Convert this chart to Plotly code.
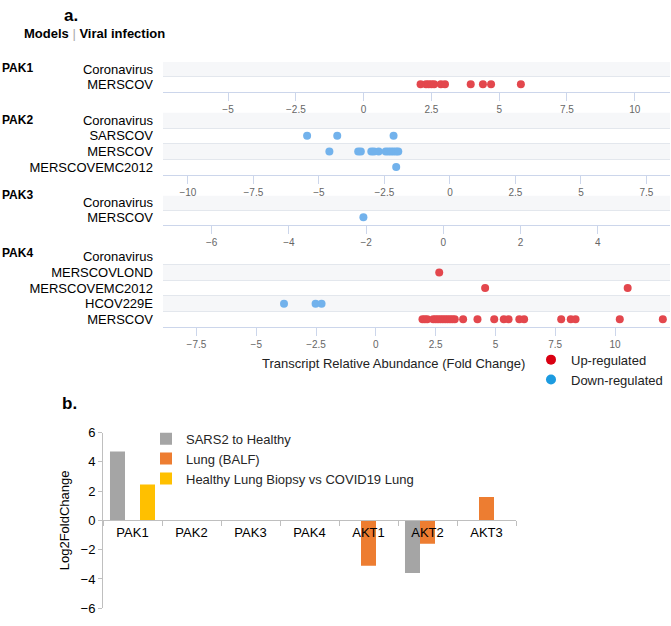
import plotly.graph_objects as go

W, H = 671, 626
def fx(px): return px / W
def fy(py): return 1 - py / H

# ---------------- data: panel a (fold change per model / virus) ----------------
pak1_rows = ["Coronavirus", "MERSCOV"]
pak1_coronavirus = []
pak1_merscov = [2.1, 2.3, 2.4, 2.5, 2.6, 2.85, 3.0, 3.95, 4.4, 4.7, 5.8]

pak2_rows = ["Coronavirus", "SARSCOV", "MERSCOV", "MERSCOVEMC2012"]
pak2_coronavirus = []
pak2_sarscov = [-5.45, -4.3, -2.15]
pak2_merscov = [-4.6, -3.5, -3.4, -3.0, -2.9, -2.72, -2.45, -2.35, -2.25, -2.15, -2.05, -1.97]
pak2_merscovemc2012 = [-2.05]

pak3_rows = ["Coronavirus", "MERSCOV"]
pak3_coronavirus = []
pak3_merscov = [-2.07]

pak4_rows = ["Coronavirus", "MERSCOVLOND", "MERSCOVEMC2012", "HCOV229E", "MERSCOV"]
pak4_coronavirus = []
pak4_merscovlond = [2.65]
pak4_merscovemc2012 = [4.57, 10.53]
pak4_hcov229e = [-3.84, -2.52, -2.27]
pak4_merscov = [1.95, 2.05, 2.15, 2.4, 2.5, 2.6, 2.7, 2.8, 2.9, 3.0, 3.1, 3.2, 3.3,
                3.65, 4.25, 4.95, 5.35, 5.55, 6.0, 6.2, 7.75, 8.15, 8.35, 10.2, 12.0]

gene_names = ["PAK1", "PAK2", "PAK3", "PAK4"]

# ---------------- data: panel b ----------------
genes_b = ["PAK1", "PAK2", "PAK3", "PAK4", "AKT1", "AKT2", "AKT3"]
sars2_to_healthy = [4.7, None, None, None, None, -3.6, None]
lung_balf = [None, None, None, None, -3.1, -1.6, 1.6]
healthy_lung_biopsy = [2.45, None, None, None, None, None, None]

# ---------------- layout helpers ----------------
panels = [
    dict(rows=pak1_rows, vals=[pak1_coronavirus, pak1_merscov],
         top=56, bottom=87, xr=[-7.4, 11.3], dtick=2.5, label_y=63),
    dict(rows=pak2_rows, vals=[pak2_coronavirus, pak2_sarscov, pak2_merscov, pak2_merscovemc2012],
         top=108, bottom=172, xr=[-10.95, 8.4], dtick=2.5, label_y=116),
    dict(rows=pak3_rows, vals=[pak3_coronavirus, pak3_merscov],
         top=193, bottom=223, xr=[-7.26, 5.87], dtick=2, label_y=193),
    dict(rows=pak4_rows, vals=[pak4_coronavirus, pak4_merscovlond, pak4_merscovemc2012, pak4_hcov229e, pak4_merscov],
         top=248, bottom=328, xr=[-8.9, 12.3], dtick=2.5, label_y=252),
]

UP_DOT = "#e3474d"
DOWN_DOT = "#72b2ec"
UP_LEG = "#d90012"
DOWN_LEG = "#1c9be0"
NARROW = "Liberation Sans Narrow, Arial Narrow, Liberation Sans, Arial, sans-serif"
SANS = "Liberation Sans, Arial, sans-serif"

fig = go.Figure()
shapes = []
annotations = []
layout_axes = {}

for i, p in enumerate(panels, start=1):
    xs = "" if i == 1 else str(i)
    up_x, up_y, dn_x, dn_y = [], [], [], []
    for row, vals in zip(p["rows"], p["vals"]):
        for v in vals:
            if v >= 0:
                up_x.append(v); up_y.append(row)
            else:
                dn_x.append(v); dn_y.append(row)
    for xv, yv, col in ((up_x, up_y, UP_DOT), (dn_x, dn_y, DOWN_DOT)):
        if xv:
            fig.add_trace(go.Scatter(x=xv, y=yv, mode="markers", xaxis="x" + xs, yaxis="y" + xs,
                                     marker=dict(size=8, color=col), showlegend=False,
                                     cliponaxis=False, hoverinfo="x+y"))
    n = len(p["rows"])
    layout_axes["xaxis" + xs] = dict(
        domain=[fx(163), fx(670)], anchor="y" + xs, range=p["xr"], tick0=0, dtick=p["dtick"],
        showline=True, linecolor="#ccd6eb", linewidth=1, ticks="outside", ticklen=8,
        tickcolor="#ccd6eb", showgrid=False, zeroline=False,
        tickfont=dict(family=NARROW, size=10, color="#666666"))
    layout_axes["yaxis" + xs] = dict(
        domain=[fy(p["bottom"]), fy(p["top"])], anchor="x" + xs, type="category",
        categoryorder="array", categoryarray=p["rows"], range=[n - 0.5, -0.5],
        tickmode="array", tickvals=p["rows"], ticktext=p["rows"],
        tickson="boundaries", showgrid=True, gridcolor="#e3e7ed", gridwidth=1, ticks="",
        ticklabelstandoff=9, zeroline=False, showline=False,
        tickfont=dict(family=SANS, size=13, color="#000000"))
    for r in range(n):
        if (n - 1 - r) % 2 == 1:
            shapes.append(dict(type="rect", xref="x" + xs + " domain", yref="y" + xs,
                               x0=0, x1=1, y0=r - 0.5, y1=r + 0.5, fillcolor="#f6f7f9",
                               line=dict(width=0), layer="below"))
    annotations.append(dict(text="<b>%s</b>" % gene_names[i - 1], xref="paper", yref="paper",
                            x=fx(0), y=fy(p["label_y"]), xanchor="left", yanchor="middle",
                            showarrow=False, font=dict(family=SANS, size=12, color="#000")))

# legend-only entries for panel a
fig.add_trace(go.Scatter(x=[None], y=[None], mode="markers", name="Up-regulated",
                         marker=dict(size=10, color=UP_LEG), legend="legend2"))
fig.add_trace(go.Scatter(x=[None], y=[None], mode="markers", name="Down-regulated",
                         marker=dict(size=10, color=DOWN_LEG), legend="legend2"))

# ---------------- panel b bars ----------------
for name, vals, col in (("SARS2 to Healthy", sars2_to_healthy, "#a5a5a5"),
                        ("Lung (BALF)", lung_balf, "#ed7d31"),
                        ("Healthy Lung Biopsy vs COVID19 Lung", healthy_lung_biopsy, "#ffc000")):
    fig.add_trace(go.Bar(x=genes_b, y=vals, name=name, xaxis="x5", yaxis="y5",
                         marker=dict(color=col, line=dict(width=0)), legend="legend"))

Y5_TOP, Y5_BOT = 436, 616
layout_axes["xaxis5"] = dict(
    domain=[fx(103), fx(516)], anchor="free", position=fy((Y5_TOP + Y5_BOT) / 2), type="category",
    tickson="boundaries", ticks="outside", ticklen=5, tickcolor="#bfbfbf",
    showline=True, linecolor="#bfbfbf", linewidth=1, showgrid=False, zeroline=False,
    tickfont=dict(family=SANS, size=13, color="#000"))
layout_axes["yaxis5"] = dict(
    domain=[fy(Y5_BOT), fy(Y5_TOP)], anchor="x5", range=[-6, 6],
    tickmode="linear", dtick=2, tick0=-6,
    showline=True, linecolor="#bfbfbf", linewidth=1, ticks="outside", ticklen=4,
    tickcolor="#bfbfbf", showgrid=False, zeroline=False,
    tickfont=dict(family=SANS, size=13, color="#000"),
    title=dict(text="Log2FoldChange", font=dict(family=SANS, size=13, color="#000"), standoff=8))

# ---------------- text ----------------
annotations += [
    dict(text="<b>a.</b>", xref="paper", yref="paper", x=fx(62), y=fy(9), xanchor="left",
         yanchor="middle", showarrow=False, font=dict(family=SANS, size=17, color="#000")),
    dict(text="<b>Models</b> <span style='color:#aaaaaa'>|</span> <b>Viral infection</b>",
         xref="paper", yref="paper", x=fx(22), y=fy(27), xanchor="left", yanchor="middle",
         showarrow=False, font=dict(family=SANS, size=13, color="#000")),
    dict(text="Transcript Relative Abundance (Fold Change)", xref="paper", yref="paper",
         x=fx(393), y=fy(365), xanchor="center", yanchor="middle", showarrow=False,
         font=dict(family=SANS, size=13, color="#222")),
    dict(text="<b>b.</b>", xref="paper", yref="paper", x=fx(60), y=fy(406), xanchor="left",
         yanchor="middle", showarrow=False, font=dict(family=SANS, size=17, color="#000")),
]

fig.update_layout(
    width=W, height=H, margin=dict(l=0, r=0, t=0, b=0),
    paper_bgcolor="white", plot_bgcolor="white",
    font=dict(family=SANS, size=13, color="#000"),
    barmode="group", bargap=0.237, bargroupgap=0,
    shapes=shapes, annotations=annotations,
    legend=dict(x=fx(146), y=fy(427), xanchor="left", yanchor="top",
                bgcolor="rgba(0,0,0,0)", font=dict(family=SANS, size=13, color="#262626"),
                traceorder="normal"),
    legend2=dict(x=fx(531), y=fy(346), xanchor="left", yanchor="top",
                 bgcolor="rgba(0,0,0,0)", font=dict(family=SANS, size=13, color="#222"),
                 traceorder="normal"),
    **layout_axes,
)

# remove the default 8px page margin so the figure fills the 671x626 window exactly
fig.write_html("out.html", config={"displayModeBar": False},
               post_script="document.body.style.margin='0px';")
